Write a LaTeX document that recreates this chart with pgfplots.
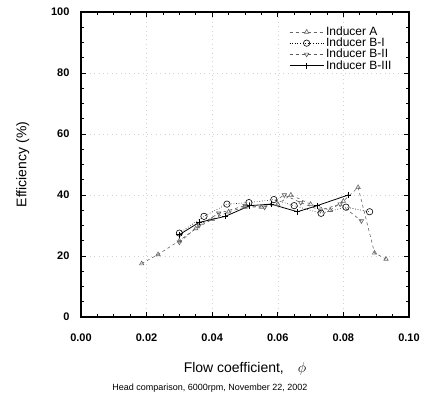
\documentclass[border=0pt]{standalone}
\usepackage{pgfplots}
\pgfplotsset{compat=1.18}
\usepackage{fontspec}
\setmainfont{Liberation Sans}
\begin{document}
\begin{tikzpicture}
\begin{axis}[
  scale only axis,
  width=328pt, height=305pt,
  xmin=0, xmax=0.10, ymin=0, ymax=100,
  xtick={0,0.02,0.04,0.06,0.08,0.10},
  ytick={0,20,40,60,80,100},
  minor x tick num=3, minor y tick num=3,
  tick align=inside,
  major tick length=5pt, minor tick length=3pt,
  tick style={black, line width=0.8pt},
  axis line style={line width=1.1pt},
  /pgf/number format/assume math mode=true,
  ticklabel style={font=\fontsize{11}{12}\selectfont\bfseries},
  xticklabel style={yshift=-13pt, /pgf/number format/.cd, fixed, fixed zerofill, precision=2},
  yticklabel style={xshift=-8pt},
  xlabel={Flow coefficient,\quad $\phi$},
  ylabel={Efficiency (\%)},
  label style={font=\fontsize{14}{16}\selectfont},
  xlabel style={yshift=-14pt},
  ylabel style={yshift=15pt},
  grid=major,
  major grid style={loosely dotted, gray!35, line width=0.4pt},
  legend style={at={(rel axis cs:0.625,0.965)}, anchor=north west, draw=none, fill=none,
    font=\fontsize{12}{13}\selectfont, row sep=-3pt},
  legend cell align=left,
  legend image code/.code={\draw[mark repeat=2,mark phase=2] plot coordinates {(0cm,0cm) (0.6cm,0cm) (1.2cm,0cm)};},
  clip=false,
]
\addplot[gray!80!black, dashed, line width=0.6pt, mark=triangle, mark size=2.5pt, mark options={solid}]
 coordinates {(0.0185,17.5) (0.0235,20.5) (0.0300,25) (0.0350,29) (0.0400,32) (0.0450,34.5) (0.0500,36) (0.0550,36) (0.0600,37) (0.0640,40) (0.0700,37) (0.0760,35) (0.0800,38) (0.0845,42.5) (0.0895,21) (0.0930,19)};
\addlegendentry{Inducer A}
\addplot[black, dotted, line width=0.6pt, mark=o, mark size=3.2pt, mark options={solid}]
 coordinates {(0.0300,27.5) (0.0375,33) (0.0445,37) (0.0512,37.5) (0.0588,38.5) (0.0650,36.5) (0.0732,34) (0.0808,36) (0.0880,34.5)};
\addlegendentry{Inducer B-I}
\addplot[gray!70!black, dashed, line width=0.6pt, mark=triangle, mark size=2.5pt, mark options={solid, rotate=180}]
 coordinates {(0.0300,24.5) (0.0360,30) (0.0420,34) (0.0500,36.5) (0.0560,36) (0.0620,40) (0.0670,37.5) (0.0730,35) (0.0790,37) (0.0855,31.5)};
\addlegendentry{Inducer B-II}
\addplot[black, solid, line width=0.8pt, mark=+, mark size=3pt]
 coordinates {(0.0300,27) (0.0360,31) (0.0440,33) (0.0515,36.5) (0.0580,37) (0.0660,34.5) (0.0720,36.5) (0.0815,40)};
\addlegendentry{Inducer B-III}
\end{axis}
\path (current axis.south) ++(-35pt,-71pt) node {\fontsize{9}{10}\selectfont Head comparison, 6000rpm, November 22, 2002};
\path (current axis.south west) ++(-81pt,-90pt) rectangle ++(423pt,407pt);
\end{tikzpicture}
\end{document}
